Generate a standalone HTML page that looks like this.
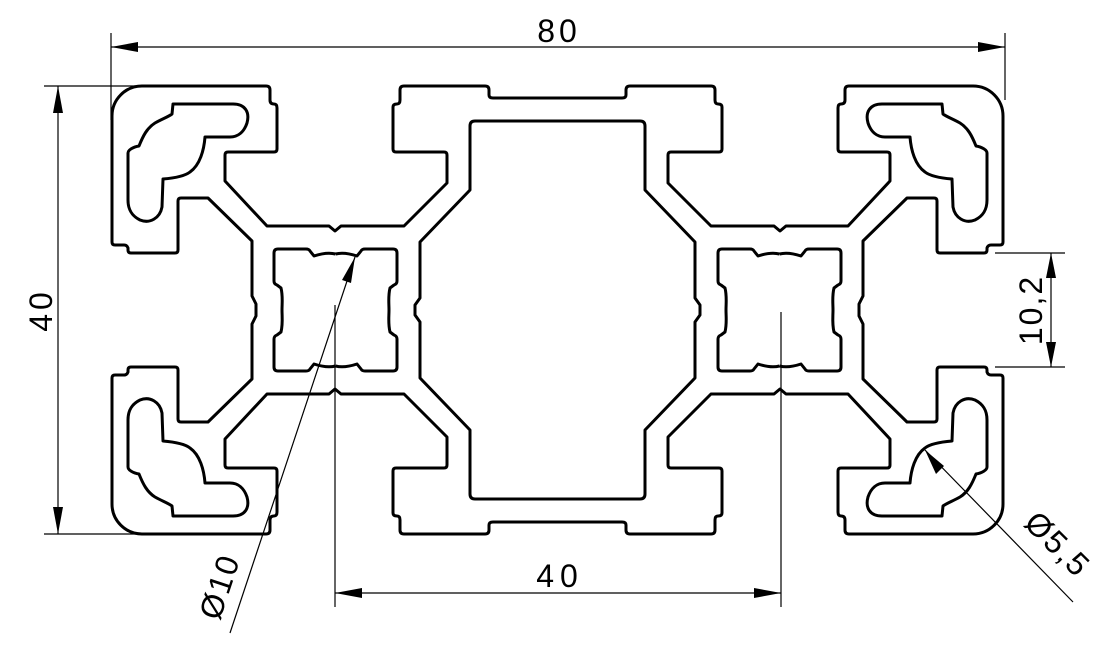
<!DOCTYPE html>
<html><head><meta charset="utf-8"><style>
html,body{margin:0;padding:0;background:#fff;}
svg{display:block;}
text{font-family:"Liberation Sans",sans-serif;font-size:32px;fill:#000;}
</style></head><body>
<svg width="1118" height="667" viewBox="0 0 1118 667" xmlns="http://www.w3.org/2000/svg">
<defs>
<g id="q" fill="none" stroke="#000" stroke-width="3" stroke-linejoin="round">
<path d="M256,310 L256,304 L252,296 L252,241 L208,198 L181,198 Q178,198 178,201 L178,250 Q178,253 175,253 L131,253 Q128,253 128,250 L128,248 Q127,245 124,245 L115,245 Q112,245 112,242 L112,116 A30,30 0 0 1 142,86 L266,86 Q270,86 270,90 L270,100 Q270,104 274,104 Q277,104 277,108 L277,149 Q277,152 274,152 L228,152 Q225,152 225,155 L225,181 L267,226 L329,226 L335,231 L341,226 L404,226 L447,183 L447,155 Q447,152 444,152 L396,152 Q393,152 393,149 L393,107 Q393,104 397,104 Q400,104 400,100 L400,90 Q400,86 404,86 L485,86 Q489,86 489,90 L489,95 Q489,98 493,98 L557.5,98"/>
<path d="M557.5,121 L475,121 Q470,121 470,126 L470,190 L420,242 L420,298 L415,305 L415,310"/>
<path d="M173,104 L233,104 C245,104 250,112 247,123 C244,132 238,137 230,137 L205,137 C204,150 200,165 190,172 C185,176 175,178 163,179 L162,207 C160,218 150,224 140,220 C132,216 128,210 128,200 L128,153 C128,150 133,147 139,146 C143,136 147,128 155,123 C162,119 168,117 172,114 Z"/>
</g>
<g id="c" fill="none" stroke="#000" stroke-width="3" stroke-linejoin="round">
<path d="M335.5,254 C328,252 320,254 314,256 L310,251 Q309,249 306,249 L278,249 Q274,249 274,253 L274,281 Q274,284 277,285 L281,288 C283,296 282,303 282,310"/>
</g>
<g id="cell">
<use href="#c"/>
<use href="#c" transform="matrix(-1,0,0,1,671,0)"/>
<use href="#c" transform="matrix(1,0,0,-1,0,620)"/>
<use href="#c" transform="matrix(-1,0,0,-1,671,620)"/>
</g>
</defs>
<use href="#q"/>
<use href="#q" transform="matrix(-1,0,0,1,1115,0)"/>
<use href="#q" transform="matrix(1,0,0,-1,0,620)"/>
<use href="#q" transform="matrix(-1,0,0,-1,1115,620)"/>
<use href="#cell"/>
<use href="#cell" transform="matrix(-1,0,0,1,1115,0)"/>

<g stroke="#000" stroke-width="1.2" fill="none">
<line x1="111" y1="33" x2="111" y2="120"/>
<line x1="1005" y1="33" x2="1005" y2="100"/>
<line x1="111" y1="47" x2="1005" y2="47"/>
<line x1="44" y1="86" x2="140" y2="86"/>
<line x1="44" y1="534" x2="140" y2="534"/>
<line x1="58" y1="86" x2="58" y2="534"/>
<line x1="995" y1="253" x2="1065" y2="253"/>
<line x1="995" y1="367" x2="1065" y2="367"/>
<line x1="1051" y1="253" x2="1051" y2="367"/>
<line x1="335" y1="305" x2="335" y2="607"/>
<line x1="781" y1="312" x2="781" y2="607"/>
<line x1="335" y1="593" x2="781" y2="593"/>
<line x1="355" y1="257" x2="230" y2="633"/>
<line x1="925" y1="450" x2="1073" y2="602"/>
</g>
<g fill="#000">
<polygon points="111,47 138,42 138,52"/>
<polygon points="1005,47 978,42 978,52"/>
<polygon points="58,86 53,113 63,113"/>
<polygon points="58,534 53,507 63,507"/>
<polygon points="1051,253 1046,278 1056,278"/>
<polygon points="1051,367 1046,342 1056,342"/>
<polygon points="335,593 362,588 362,598"/>
<polygon points="781,593 754,588 754,598"/>
<polygon points="355,257 342,280 351,283"/>
<polygon points="925,450 936,474 944,466"/>
</g>
<text x="559" y="42" text-anchor="middle" letter-spacing="4">80</text>
<text transform="translate(52,310) rotate(-90)" text-anchor="middle" letter-spacing="4">40</text>
<text transform="translate(1042,310) rotate(-90)" text-anchor="middle" letter-spacing="2">10,2</text>
<text x="560" y="587" text-anchor="middle" letter-spacing="6">40</text>
<text transform="translate(230,590) rotate(-71.6)" text-anchor="middle" letter-spacing="2">Ø10</text>
<text transform="translate(1050,552) rotate(45)" text-anchor="middle" letter-spacing="2">Ø5,5</text>
</svg>
</body></html>
